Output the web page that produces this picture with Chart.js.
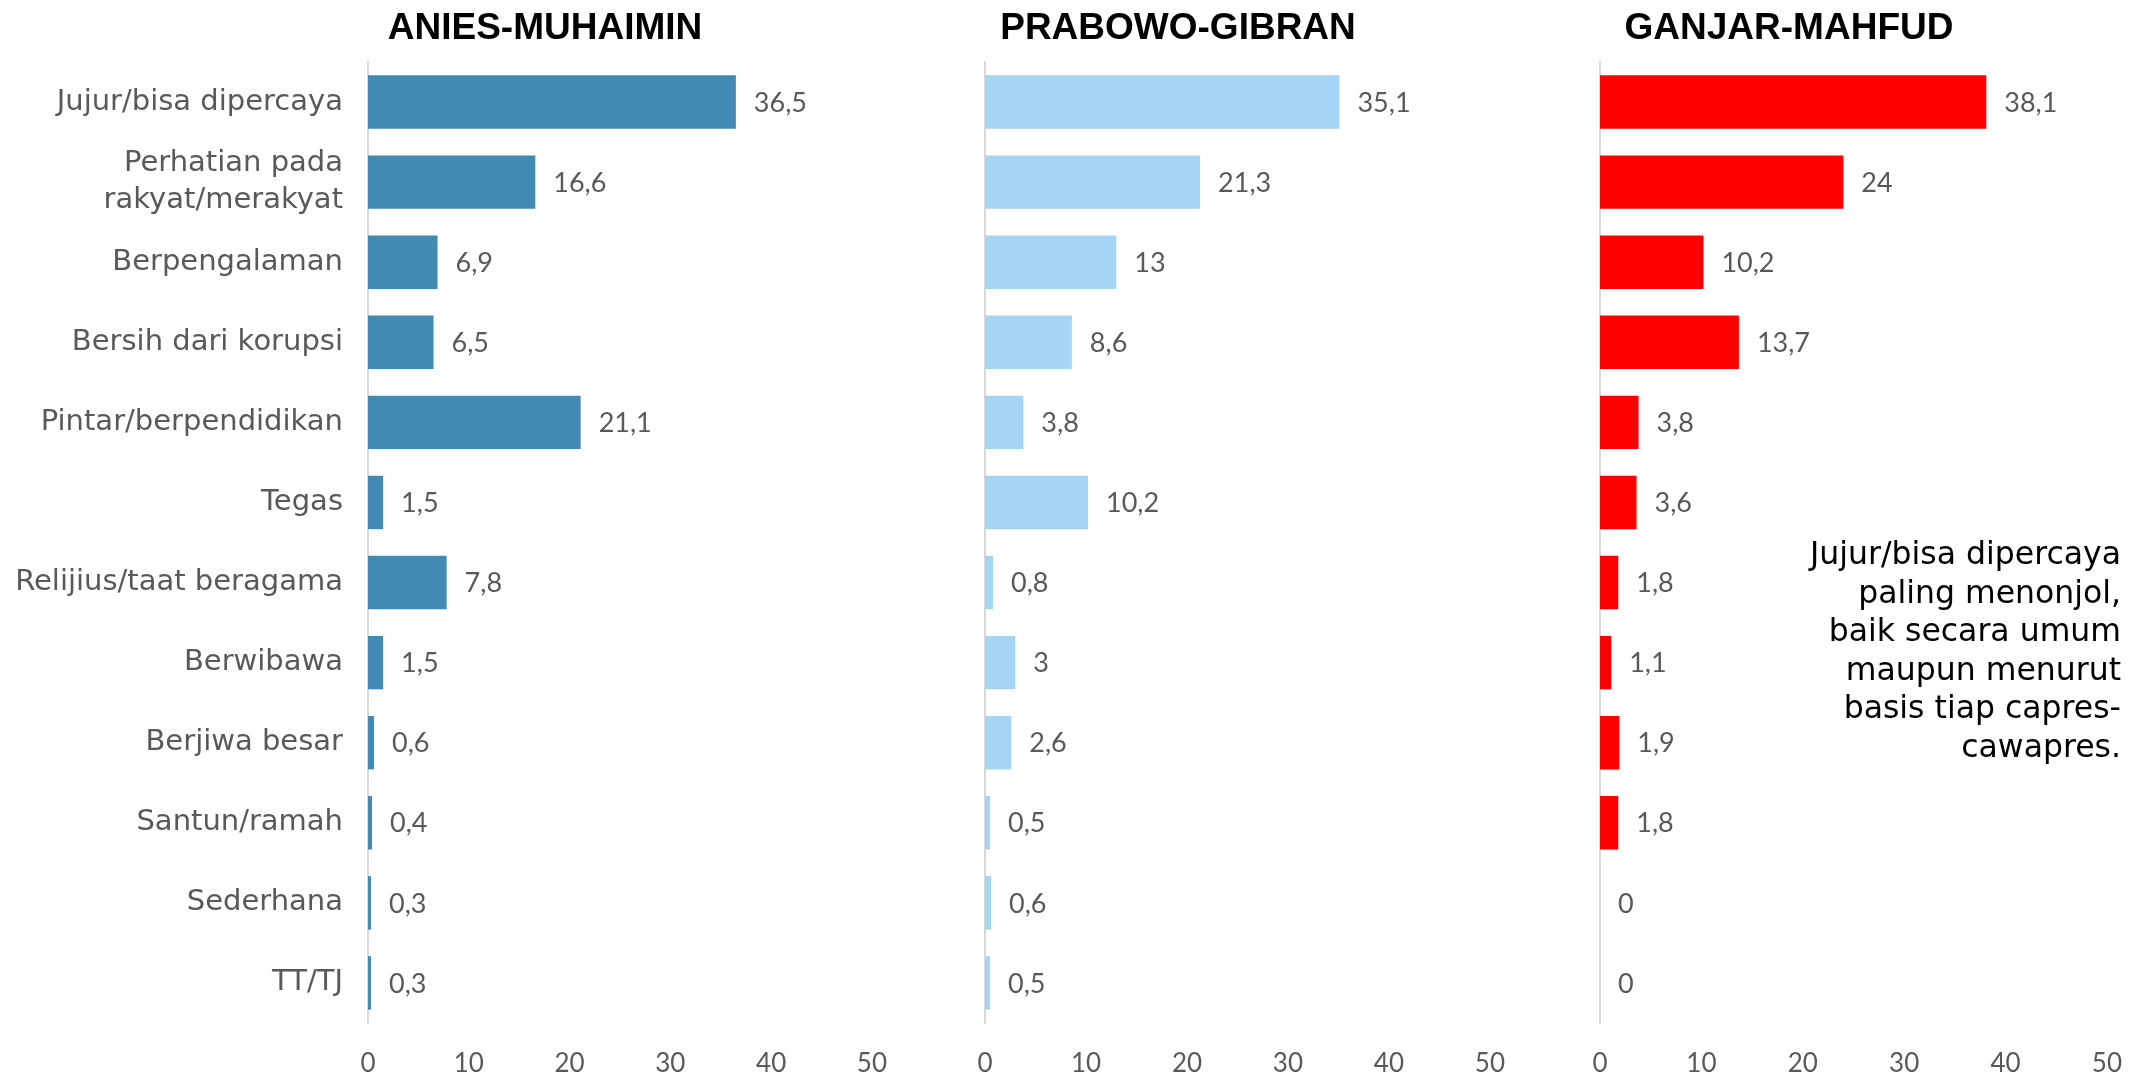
<!DOCTYPE html>
<html>
<head>
<meta charset="utf-8">
<script src="https://cdn.jsdelivr.net/npm/chart.js@4"></script>
<style>
  body { margin: 0; background: #fff; width: 2139px; height: 1072px; position: relative; overflow: hidden; }
  .panel { position: absolute; top: 0; height: 1072px; }
  .judul {
    position: absolute; top: 7px; width: 500px; text-align: center; line-height: 40px;
    font-family: "Liberation Sans", Arial, sans-serif; font-weight: bold; font-size: 37px; color: #000;
  }
  .catatan {
    position: absolute; right: 18px; top: 534px; text-align: right;
    font-family: "DejaVu Sans", sans-serif; font-size: 31.5px; line-height: 38.6px; color: #000;
  }
</style>
</head>
<body>
<div class="panel" style="left:0;width:904px"><canvas id="grafik1"></canvas></div>
<div class="panel" style="left:860px;width:662px"><canvas id="grafik2"></canvas></div>
<div class="panel" style="left:1475px;width:664px"><canvas id="grafik3"></canvas></div>

<div class="judul" style="left:295px">ANIES-MUHAIMIN</div>
<div class="judul" style="left:928px">PRABOWO-GIBRAN</div>
<div class="judul" style="left:1539px">GANJAR-MAHFUD</div>

<div class="catatan">Jujur/bisa dipercaya<br>paling menonjol,<br>baik secara umum<br>maupun menurut<br>basis tiap capres-<br>cawapres.</div>

<script>
// Kategori alasan memilih
const kategori = [
  'Jujur/bisa dipercaya',
  ['Perhatian pada', 'rakyat/merakyat'],
  'Berpengalaman',
  'Bersih dari korupsi',
  'Pintar/berpendidikan',
  'Tegas',
  'Relijius/taat beragama',
  'Berwibawa',
  'Berjiwa besar',
  'Santun/ramah',
  'Sederhana',
  'TT/TJ'
];

// Persentase tiap pasangan
const aniesMuhaimin = [36.5, 16.6, 6.9, 6.5, 21.1, 1.5, 7.8, 1.5, 0.6, 0.4, 0.3, 0.3];
const prabowoGibran = [35.1, 21.3, 13, 8.6, 3.8, 10.2, 0.8, 3, 2.6, 0.5, 0.6, 0.5];
const ganjarMahfud  = [38.1, 24, 10.2, 13.7, 3.8, 3.6, 1.8, 1.1, 1.9, 1.8, 0, 0];

const skalaMaks = 50;
const langkahTick = 10;

const abu = '#595959';
const hurufAngka = 'Lato, sans-serif';
const hurufKategori = '"DejaVu Sans", sans-serif';

// Tulis angka di ujung tiap batang (pakai koma desimal)
const labelNilai = {
  id: 'labelNilai',
  afterDatasetsDraw(chart) {
    const ctx = chart.ctx;
    const meta = chart.getDatasetMeta(0);
    const data = chart.data.datasets[0].data;
    ctx.save();
    ctx.font = '27px ' + hurufAngka;
    ctx.fillStyle = abu;
    ctx.textAlign = 'left';
    ctx.textBaseline = 'middle';
    meta.data.forEach((bar, i) => {
      const teks = String(data[i]).replace('.', ',');
      ctx.fillText(teks, bar.x + 18, bar.y + 1);
    });
    ctx.restore();
  }
};

function buatGrafik(id, nilai, warna, lebarSumbuY, tampilLabel) {
  const ctx = document.getElementById(id).getContext('2d');
  return new Chart(ctx, {
    type: 'bar',
    data: {
      labels: kategori,
      datasets: [{
        data: nilai,
        backgroundColor: warna,
        borderWidth: 0,
        barPercentage: 0.667,
        categoryPercentage: 1
      }]
    },
    options: {
      indexAxis: 'y',
      responsive: true,
      maintainAspectRatio: false,
      animation: false,
      layout: { padding: { top: 62, right: 14, left: 0, bottom: 0 } },
      plugins: {
        legend: { display: false },
        tooltip: { enabled: false }
      },
      scales: {
        x: {
          min: 0,
          max: skalaMaks,
          grid: { display: false },
          border: { display: false },
          ticks: {
            stepSize: langkahTick,
            padding: 17,
            color: abu,
            font: { family: hurufAngka, size: 26 }
          },
          afterFit(scale) { scale.height = 49; }
        },
        y: {
          grid: { display: false },
          border: { display: true, color: '#d9d9d9', width: 2 },
          ticks: {
            display: tampilLabel,
            padding: 17,
            color: abu,
            font: { family: hurufKategori, size: 29, lineHeight: 1.27 }
          },
          afterFit(scale) { scale.width = lebarSumbuY; }
        }
      }
    },
    plugins: [labelNilai]
  });
}

buatGrafik('grafik1', aniesMuhaimin, '#418ab3', 368, true);
buatGrafik('grafik2', prabowoGibran, '#a5d5f5', 125, false);
buatGrafik('grafik3', ganjarMahfud, '#ff0000', 125, false);
</script>
</body>
</html>
